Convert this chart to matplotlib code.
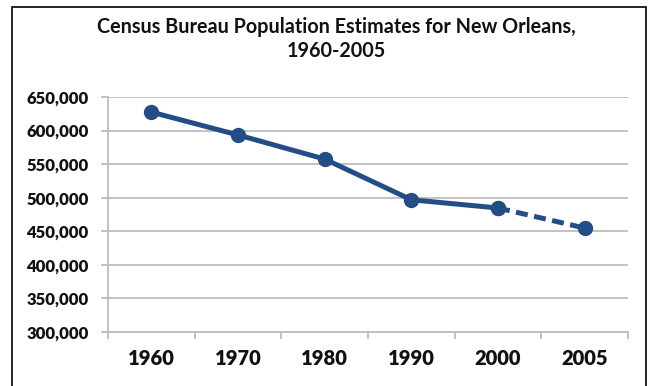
import matplotlib
matplotlib.use("Agg")
import matplotlib.pyplot as plt
from matplotlib.patches import Rectangle
from matplotlib.ticker import FuncFormatter, FixedLocator

# Census Bureau estimates
years = ["1960", "1970", "1980", "1990", "2000", "2005"]
population = [627525, 593471, 557515, 496938, 484674, 454863]
y_ticks = [300000, 350000, 400000, 450000, 500000, 550000, 600000, 650000]

line_color = "#234d86"
grid_color = "#bdbdbd"
text_color = "#111111"

plt.rcParams["font.family"] = ["Lato", "DejaVu Sans"]

fig = plt.figure(figsize=(6.53, 3.86), dpi=100)
ax = fig.add_axes([108 / 653, 1 - 332 / 386, 520 / 653, 235 / 386])

x = list(range(len(years)))
# solid part up to 2000, dashed projection to 2005
ax.plot(x[:5], population[:5], color=line_color, lw=3.6, marker="o", ms=10,
        solid_capstyle="round", solid_joinstyle="round", zorder=3)
ax.plot(x[4:], population[4:], color=line_color, lw=3.6, ls=(0, (2.4, 1.3)),
        marker="o", ms=10, zorder=3)

ax.set_xlim(-0.5, len(years) - 0.5)
ax.set_ylim(y_ticks[0], y_ticks[-1])
ax.set_yticks(y_ticks)
ax.yaxis.set_major_formatter(FuncFormatter(lambda v, p: f"{int(v):,}"))
ax.set_xticks(x)
ax.set_xticklabels(years)
ax.xaxis.set_minor_locator(FixedLocator([i - 0.5 for i in range(len(years) + 1)]))

ax.grid(axis="y", color=grid_color, lw=1.3)
ax.set_axisbelow(True)
for side in ("top", "right"):
    ax.spines[side].set_visible(False)
for side in ("left", "bottom"):
    ax.spines[side].set_color(grid_color)
    ax.spines[side].set_linewidth(1.3)

ax.tick_params(axis="y", length=5, width=1.3, color=grid_color, pad=9,
               labelsize=12)
ax.tick_params(axis="x", which="major", length=0, pad=12, labelsize=14.5)
ax.tick_params(axis="x", which="minor", length=5, width=1.3, color=grid_color)
for lbl in ax.get_yticklabels() + ax.get_xticklabels():
    lbl.set_fontweight("heavy")
    lbl.set_color(text_color)

fig.text(336 / 653, 1 - 27 / 386, "Census Bureau Population Estimates for New Orleans,",
         ha="center", va="center", fontsize=14.2, fontweight="bold", color=text_color)
fig.text(336 / 653, 1 - 51 / 386, "1960-2005",
         ha="center", va="center", fontsize=14.2, fontweight="bold", color=text_color)

# outer chart frame
fig.patches.append(Rectangle((12.5 / 653, -0.05), (646 - 12.5) / 653, 1.05 - 7 / 386,
                             transform=fig.transFigure, fill=False,
                             edgecolor="black", lw=1.2))

fig.savefig("out.png", dpi=100)
